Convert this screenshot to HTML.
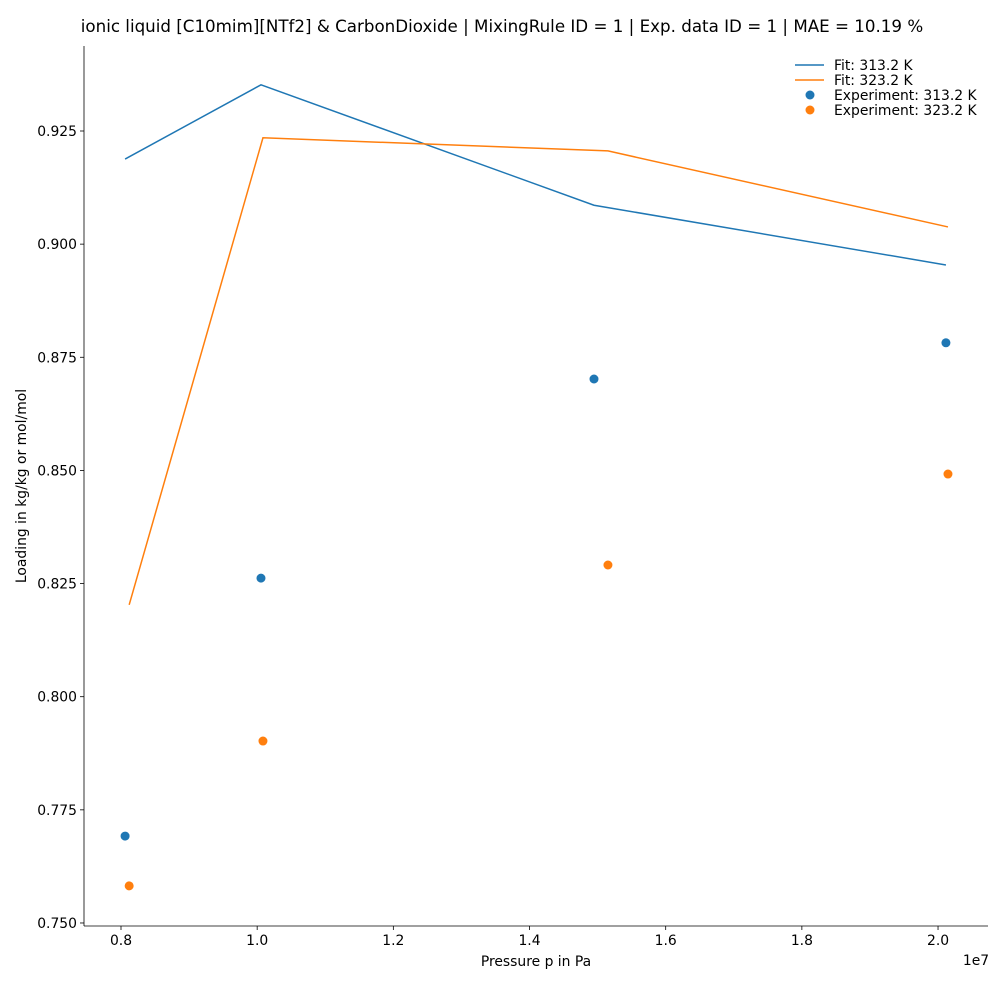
<!DOCTYPE html>
<html><head><meta charset="utf-8"><style>
body{margin:0;background:#fff;font-family:"DejaVu Sans","Liberation Sans",sans-serif;}
svg text{font-family:"DejaVu Sans","Liberation Sans",sans-serif;}
</style></head><body>
<svg id="chart" width="1003" height="984" xmlns="http://www.w3.org/2000/svg">
<text x="502" y="32" font-size="16.7" text-anchor="middle">ionic liquid [C10mim][NTf2] &amp; CarbonDioxide | MixingRule ID = 1 | Exp. data ID = 1 | MAE = 10.19 %</text>
<g id="axes"></g>
<g id="marks"></g>
<g id="legend"></g>
</svg>
<script>
const xTicks=[0.8,1.0,1.2,1.4,1.6,1.8,2.0];
const yTicks=[0.750,0.775,0.800,0.825,0.850,0.875,0.900,0.925];
const fit313X=[8.06e6,1.0056e7,1.4947e7,2.0116e7];
const fit313Y=[0.9188,0.9352,0.9086,0.8954];
const fit323X=[8.12e6,1.0085e7,1.5152e7,2.0146e7];
const fit323Y=[0.8203,0.9235,0.9206,0.9038];
const exp313X=[8.06e6,1.0056e7,1.4947e7,2.0116e7];
const exp313Y=[0.7692,0.8262,0.8702,0.8782];
const exp323X=[8.12e6,1.0085e7,1.5152e7,2.0146e7];
const exp323Y=[0.7582,0.7902,0.8291,0.8492];
const NS="http://www.w3.org/2000/svg";
const L=84,R=988,T=46,B=926;
const xs=v=>121+(v/1e7-0.8)*680.86;
const ys=v=>131+(0.925-v)/0.025*113.14;
function mk(t,a,p){const e=document.createElementNS(NS,t);for(const k in a)e.setAttribute(k,a[k]);p.appendChild(e);return e;}
const ax=document.getElementById('axes'),mg=document.getElementById('marks'),lg=document.getElementById('legend');
let e=mk('line',{x1:L,y1:T,x2:L,y2:B,stroke:'#000','stroke-width':0.8},ax);


e=mk('line',{x1:L,y1:B,x2:R,y2:B,stroke:'#000','stroke-width':0.8},ax);


xTicks.forEach(t=>{const x=xs(t*1e7);
mk('line',{x1:x,y1:B,x2:x,y2:B+4,stroke:'#000','stroke-width':0.8},ax);
const tx=mk('text',{x:x,y:B+19,'font-size':13.9,'text-anchor':'middle'},ax);tx.textContent=t.toFixed(1);

});
yTicks.forEach(t=>{const y=ys(t);
mk('line',{x1:L-4,y1:y,x2:L,y2:y,stroke:'#000','stroke-width':0.8},ax);
const tx=mk('text',{x:L-7,y:y+5,'font-size':13.9,'text-anchor':'end'},ax);tx.textContent=t.toFixed(3);

});
let t=mk('text',{x:976,y:965,'font-size':13.9,'text-anchor':'middle'},ax);t.textContent='1e7';


t=mk('text',{x:536,y:966,'font-size':13.9,'text-anchor':'middle'},ax);t.textContent='Pressure p in Pa';


t=mk('text',{x:26,y:486,'font-size':13.9,'text-anchor':'middle',transform:'rotate(-90 26 486)'},ax);t.textContent='Loading in kg/kg or mol/mol';


function line(X,Y,c,n){const p=mk('polyline',{points:X.map((x,i)=>xs(x)+','+ys(Y[i])).join(' '),fill:'none',stroke:c,'stroke-width':1.5},mg);

}
function pts(X,Y,c,n){X.forEach((x,i)=>{const ci=mk('circle',{cx:xs(x),cy:ys(Y[i]),r:4.5,fill:c},mg);

});}
line(fit313X,fit313Y,'#1f77b4','fit-313-line');
line(fit323X,fit323Y,'#ff7f0e','fit-323-line');
pts(exp313X,exp313Y,'#1f77b4','experiment-313-point');
pts(exp323X,exp323Y,'#ff7f0e','experiment-323-point');
const items=[['line','#1f77b4','Fit: 313.2 K'],['line','#ff7f0e','Fit: 323.2 K'],['dot','#1f77b4','Experiment: 313.2 K'],['dot','#ff7f0e','Experiment: 323.2 K']];
items.forEach((it,i)=>{const y=65+i*15;
if(it[0]=='line')mk('line',{x1:795,y1:y,x2:824,y2:y,stroke:it[1],'stroke-width':1.5},lg);
else mk('circle',{cx:810,cy:y,r:4.5,fill:it[1]},lg);
const tx=mk('text',{x:834,y:y+5,'font-size':13.9},lg);tx.textContent=it[2];

});
</script>
</body></html>
